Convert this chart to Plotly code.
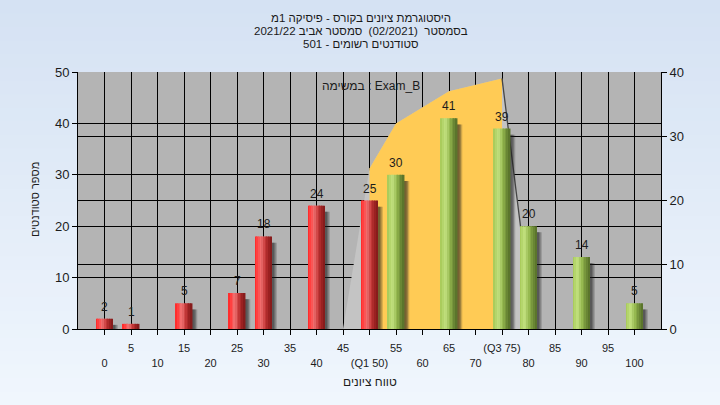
import plotly.graph_objects as go

# ---------------- data ----------------
grades = [0, 5, 15, 25, 30, 40, 50, 55, 65, 75, 80, 90, 100]
counts = [2, 1, 5, 7, 18, 24, 25, 30, 41, 39, 20, 14, 5]
Q1 = 50
Q3 = 75
tick_grades = list(range(0, 105, 5))
curve_x = [45, 50, 55, 65, 75, 80]
curve_y = [0, 25, 32, 37, 39, 6]

title_lines = [
    "היסטוגרמת ציונים בקורס - פיסיקה 1מ",
    "בסמסטר  (02/2021)  סמסטר אביב 2021/22",
    "סטודנטים רשומים - 501",
]
exam_label = "במשימה : Exam_B"
x_title = "טווח ציונים"
y_title = "מספר סטודנטים"

# ---------------- styling helpers ----------------
FONT = "Liberation Sans, Arial, sans-serif"
TXT = "#1c1c1c"
BAR_W = 3.1
N_SLICES = 10
L, R, T, B = 78, 59, 72, 76
PW, PH = 720 - L - R, 405 - T - B

red_stops = [(0.0, (255, 35, 35)), (0.18, (255, 70, 70)), (0.38, (238, 115, 115)),
             (0.6, (200, 60, 60)), (0.82, (160, 35, 35)), (1.0, (125, 25, 25))]
green_stops = [(0.0, (165, 200, 85)), (0.3, (196, 226, 130)), (0.55, (150, 185, 80)),
               (0.8, (112, 142, 56)), (1.0, (84, 108, 40))]


def interp(stops, t):
    for (t0, c0), (t1, c1) in zip(stops[:-1], stops[1:]):
        if t0 <= t <= t1:
            f = (t - t0) / (t1 - t0) if t1 > t0 else 0
            c = [round(a + (b - a) * f) for a, b in zip(c0, c1)]
            return "rgb(%d,%d,%d)" % tuple(c)
    c = stops[-1][1]
    return "rgb(%d,%d,%d)" % c


fig = go.Figure()

# ---------------- area (right axis, primary y) ----------------
fig.add_trace(go.Scatter(
    x=curve_x + [curve_x[-1], curve_x[0]],
    y=curve_y + [0, 0],
    fill="toself", fillcolor="rgb(196,196,196)", mode="none",
    yaxis="y", hoverinfo="skip", showlegend=False))
yx = [x for x in curve_x if Q1 <= x <= Q3]
yy = [y for x, y in zip(curve_x, curve_y) if Q1 <= x <= Q3]
fig.add_trace(go.Scatter(
    x=[yx[0]] + yx + [yx[-1]],
    y=[0] + yy + [0],
    fill="toself", fillcolor="rgb(255,203,85)", mode="none",
    yaxis="y", hoverinfo="skip", showlegend=False))
dx = [x for x in curve_x if x >= Q3]
dy = [y for x, y in zip(curve_x, curve_y) if x >= Q3]
fig.add_trace(go.Scatter(
    x=dx, y=dy, mode="lines", line=dict(color="rgb(70,70,70)", width=1.3),
    yaxis="y", hoverinfo="skip", showlegend=False))

# ---------------- bars (left axis, y2) ----------------
shadow_y = [max(c - 0.7, 0.3) for c in counts]
for off, alpha in [(0.95, 0.22), (0.7, 0.28), (0.45, 0.3)]:
    fig.add_trace(go.Bar(
        x=grades, y=shadow_y, base=-0.5, width=BAR_W, offset=-BAR_W / 2 + off,
        marker=dict(color="rgba(30,30,30,%.2f)" % alpha, line=dict(width=0)),
        yaxis="y2", hoverinfo="skip", showlegend=False))

colors_is_red = [g <= Q1 for g in grades]
sw = BAR_W / N_SLICES
for i in range(N_SLICES):
    t = (i + 0.5) / N_SLICES
    cols = [interp(red_stops if r else green_stops, t) for r in colors_is_red]
    fig.add_trace(go.Bar(
        x=grades, y=counts, width=sw * 1.15, offset=-BAR_W / 2 + i * sw,
        marker=dict(color=cols, line=dict(width=0)),
        yaxis="y2", hoverinfo="skip", showlegend=False))

# ---------------- axes ----------------
ticktext = []
for k, g in enumerate(tick_grades):
    lab = str(g)
    if g == Q1:
        lab = "(Q1 %d)" % g
    if g == Q3:
        lab = "(Q3 %d)" % g
    ticktext.append(lab if k % 2 == 1 else "<br>" + lab)

axis_common = dict(showline=True, linecolor="black", linewidth=1,
                   gridcolor="black", gridwidth=1, ticks="outside",
                   ticklen=5, tickcolor="black", zeroline=False, automargin=False,
                   tickfont=dict(family=FONT, size=13, color=TXT))

fig.update_layout(
    width=720, height=405,
    margin=dict(l=L, r=R, t=T, b=B),
    paper_bgcolor="rgb(226,235,247)",
    plot_bgcolor="rgb(180,180,180)",
    barmode="overlay",
    showlegend=False,
    xaxis=dict(range=[-5, 105], tickvals=tick_grades, ticktext=ticktext, tickangle=0,
               ticklabelstandoff=4,
               **{**axis_common, "tickfont": dict(family=FONT, size=11, color=TXT)}),
    yaxis=dict(range=[0, 40], dtick=10, side="right", **axis_common),
    yaxis2=dict(range=[0, 50], dtick=10, side="left", overlaying="y", **axis_common),
)

# paper gradient (margins) + plot background
shapes = []
n = 30
for i in range(n):
    t = i / (n - 1)
    c = [round(a + (b - a) * t) for a, b in zip((213, 226, 243), (240, 246, 253))]
    y1 = 1 + T / PH - i * (405 / PH) / n
    y0 = y1 - (405 / PH) / n - 0.002
    shapes.append(dict(type="rect", xref="paper", yref="paper", x0=-0.2, x1=1.2,
                       y0=y0, y1=y1, fillcolor="rgb(%d,%d,%d)" % tuple(c),
                       line=dict(width=0), layer="below"))
shapes.append(dict(type="rect", xref="paper", yref="paper", x0=0, x1=1, y0=0, y1=1,
                   fillcolor="rgb(180,180,180)", line=dict(width=0), layer="below"))
fig.update_layout(shapes=shapes)


def px_x(px):
    return (px - L) / PW


def px_y(py):
    return (405 - B - py) / PH


annotations = []
for k, line in enumerate(title_lines):
    annotations.append(dict(text=line, xref="paper", yref="paper",
                            x=px_x(361), y=px_y(18 + 13 * k),
                            showarrow=False, xanchor="center", yanchor="middle",
                            font=dict(family=FONT, size=11.5, color="#1a1a1a")))
annotations.append(dict(text=exam_label, xref="paper", yref="paper",
                        x=px_x(371), y=px_y(86), showarrow=False,
                        xanchor="center", yanchor="middle",
                        font=dict(family=FONT, size=12, color=TXT)))
annotations.append(dict(text=x_title, xref="paper", yref="paper",
                        x=px_x(370), y=px_y(382), showarrow=False,
                        xanchor="center", yanchor="middle",
                        font=dict(family=FONT, size=12, color=TXT)))
annotations.append(dict(text=y_title, xref="paper", yref="paper",
                        x=px_x(35), y=px_y(200), showarrow=False, textangle=-90,
                        xanchor="center", yanchor="middle",
                        font=dict(family=FONT, size=11, color=TXT)))
# value labels above bars
for g, c in zip(grades, counts):
    annotations.append(dict(text=str(c), x=g, y=c, xref="x", yref="y2",
                            showarrow=False, xanchor="center", yanchor="bottom",
                            yshift=3, font=dict(family=FONT, size=12, color=TXT)))
fig.update_layout(annotations=annotations)

fig.write_html(
    "out.html",
    config={"displayModeBar": False},
    post_script="document.body.style.margin='0';document.body.style.background='rgb(213,226,243)';",
)
